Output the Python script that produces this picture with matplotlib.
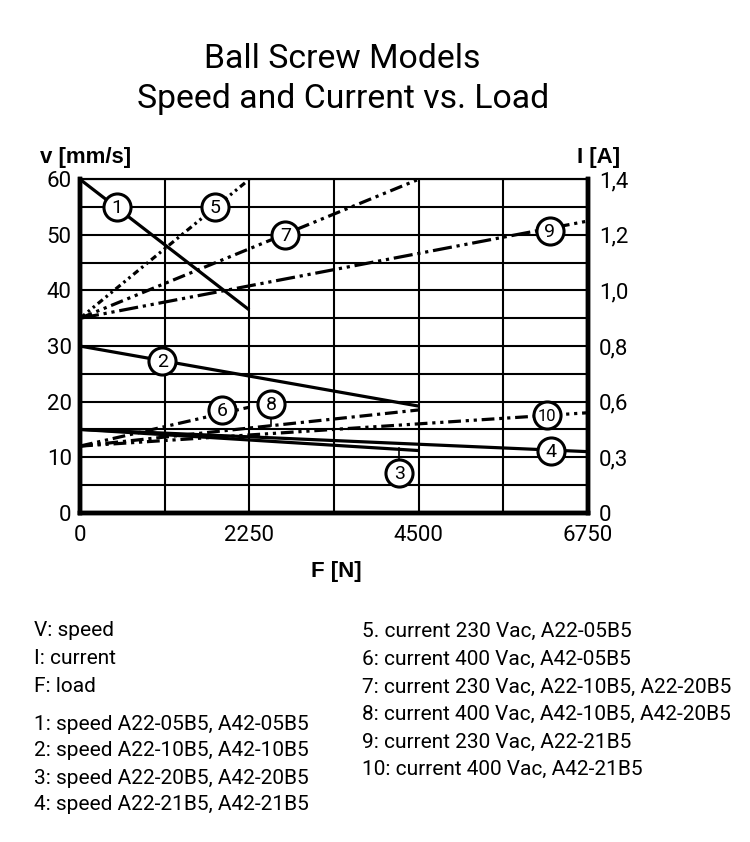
#!/usr/bin/env python3
"""
Ball screw models: speed and current vs. load
"""

import matplotlib
matplotlib.use('Agg')
import matplotlib.pyplot as plt
import numpy as np

# speed curves, left axis [mm/s]
speed_names = ['1', '2', '3', '4']
speed_F = [[0, 2250], [0, 4500], [0, 4500], [0, 6750]]
speed_v = [[60, 36.5], [30, 19.2], [15, 11.2], [15, 11.0]]

# current curves, right axis [A]
current_names = ['5', '6', '7', '8', '9', '10']
current_F = [[0, 2250], [0, 2250], [0, 4500], [0, 4500], [0, 6750], [0, 6750]]
current_I = [[0.90, 1.40], [0.36, 0.57], [0.90, 1.40], [0.36, 0.555], [0.90, 1.25], [0.36, 0.54]]

# right axis tick values and where they sit on the left axis
amp_ticks = [0, 0.3, 0.6, 0.8, 1.0, 1.2, 1.4]
amp_labels = ['0', '0,3', '0,6', '0,8', '1,0', '1,2', '1,4']
v_ticks = [0, 10, 20, 30, 40, 50, 60]
F_ticks = [0, 2250, 4500, 6750]

# circled curve numbers (F, v) and the point on the curve for a leader line
label_names = ['1', '5', '7', '9', '2', '8', '6', '10', '4', '3']
label_F = [493, 1797, 2729, 6244, 1092, 2543, 1890, 6204, 6257, 4247]
label_v = [55.0, 55.0, 50.0, 50.7, 27.3, 19.6, 18.5, 17.6, 11.1, 7.2]
leader_to = {'8': 15.6, '3': 11.6}

legend_left = ['V: speed', 'I: current', 'F: load',
               '1: speed A22-05B5, A42-05B5',
               '2: speed A22-10B5, A42-10B5',
               '3: speed A22-20B5, A42-20B5',
               '4: speed A22-21B5, A42-21B5']
legend_right = ['5. current 230 Vac, A22-05B5',
                '6: current 400 Vac, A42-05B5',
                '7: current 230 Vac, A22-10B5, A22-20B5',
                '8: current 400 Vac, A42-10B5, A42-20B5',
                '9: current 230 Vac, A22-21B5',
                '10: current 400 Vac, A42-21B5']

current_dashes = {
    '5': (2, 1.2, 0.8, 1.2, 0.8, 1.2),
    '6': (4, 1.5, 1, 1.5, 1, 1.5),
    '7': (4, 1.5, 1, 1.5, 1, 1.5),
    '8': (4, 1.5, 1, 1.5),
    '9': (6, 1.5, 1, 1.5, 1, 1.5),
    '10': (4, 1.5, 1, 1.5, 1, 1.5),
}

NARROW = ['Roboto', 'DejaVu Sans']
BOLD = ['Liberation Sans', 'DejaVu Sans']


def amp_to_v(a):
    return np.interp(a, amp_ticks, v_ticks)


def v_to_amp(v):
    return np.interp(v, v_ticks, amp_ticks)


def create_chart():
    fig = plt.figure(figsize=(7.5, 8.42), dpi=100)
    ax = fig.add_axes([0.1067, 0.391, 0.677, 0.396])

    ax.set_xlim(0, 6750)
    ax.set_ylim(0, 60)
    ax.set_xticks(F_ticks)
    ax.set_xticks(np.arange(0, 6751, 1125), minor=True)
    ax.set_yticks(v_ticks)
    ax.set_yticks(np.arange(0, 61, 5), minor=True)
    ax.grid(True, which='both', color='black', linewidth=1.5)
    ax.set_axisbelow(True)
    ax.tick_params(which='both', length=0)
    ax.tick_params(axis='y', pad=6)
    ax.tick_params(axis='x', pad=9)
    for lab in ax.get_xticklabels() + ax.get_yticklabels():
        lab.set_family(NARROW)
        lab.set_fontsize(16)

    for side in ['left', 'right', 'bottom']:
        ax.spines[side].set_linewidth(3.2)
    ax.spines['top'].set_linewidth(1.5)

    for name, F, v in zip(speed_names, speed_F, speed_v):
        ax.plot(F, v, color='black', linewidth=2.3, solid_capstyle='butt', zorder=3)

    ax2 = ax.twinx()
    ax2.set_yscale('function', functions=(amp_to_v, v_to_amp))
    ax2.set_ylim(0, 1.4)
    ax2.set_yticks(amp_ticks)
    ax2.set_yticklabels(amp_labels, family=NARROW, fontsize=16)
    ax2.tick_params(length=0, pad=8)
    ax2.yaxis.set_minor_locator(plt.NullLocator())
    for side in ['left', 'right', 'bottom']:
        ax2.spines[side].set_linewidth(3.2)
    ax2.spines['top'].set_linewidth(1.5)

    for name, F, I in zip(current_names, current_F, current_I):
        ax2.plot(F, I, color='black', linewidth=2.3,
                 dashes=current_dashes[name], dash_capstyle='butt', zorder=3)

    # circled numbers, drawn on the left axis scale, above everything
    ax3 = ax.twinx()
    ax3.set_ylim(0, 60)
    ax3.axis('off')
    for name, F, v in zip(label_names, label_F, label_v):
        if name in leader_to:
            ax3.plot([F, F], [v, leader_to[name]], color='black', linewidth=1.2, zorder=4)
        ax3.plot(F, v, 'o', markersize=19.5, markerfacecolor='white',
                 markeredgecolor='black', markeredgewidth=2.2, zorder=5)
        ax3.text(F, v - 0.2, name, ha='center', va='center', family=NARROW,
                 fontsize=14 if len(name) == 1 else 12, zorder=6)

    fig.text(0.053, 0.8135, 'v [mm/s]', family=BOLD, fontweight='bold',
             fontsize=16, ha='left', va='center')
    fig.text(0.827, 0.8135, 'I [A]', family=BOLD, fontweight='bold',
             fontsize=16, ha='right', va='center')
    fig.text(0.448, 0.3207, 'F [N]', family=BOLD, fontweight='bold',
             fontsize=16, ha='center', va='center')

    fig.text(0.457, 0.930, 'Ball Screw Models', family=NARROW,
             fontsize=24.3, ha='center', va='center')
    fig.text(0.457, 0.882, 'Speed and Current vs. Load', family=NARROW,
             fontsize=24.3, ha='center', va='center')

    # legend text below the chart
    y_px = [631, 659, 687, 724, 751, 778, 805]
    for txt, y in zip(legend_left, y_px):
        fig.text(34 / 750, 1 - y / 842, txt, family=NARROW, fontsize=15,
                 ha='left', va='center')
    y_px_r = [631, 659, 687, 714, 742, 769]
    for txt, y in zip(legend_right, y_px_r):
        fig.text(362 / 750, 1 - y / 842, txt, family=NARROW, fontsize=15,
                 ha='left', va='center')

    fig.savefig('out.png', dpi=100, facecolor='white')


if __name__ == "__main__":
    create_chart()
